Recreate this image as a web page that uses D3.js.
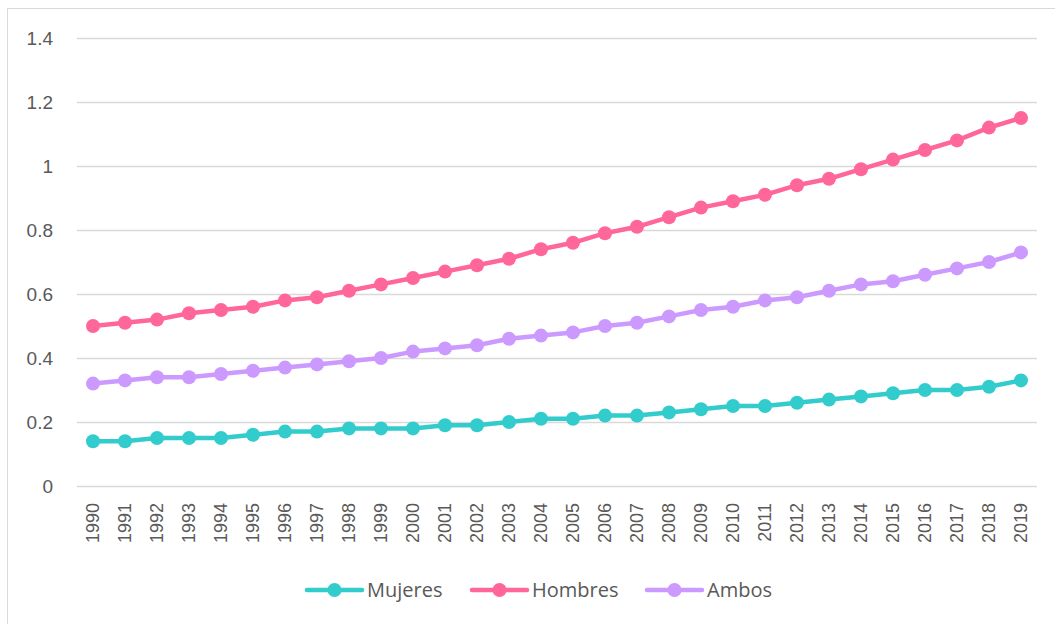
<!DOCTYPE html>
<html>
<head>
<meta charset="utf-8">
<script src="https://cdn.jsdelivr.net/npm/d3@7"></script>
<style>
  html, body { margin: 0; padding: 0; background: #fff; }
  svg { display: block; font-family: "Open Sans", Lato, sans-serif; }
</style>
</head>
<body>
<svg id="chart" width="1055" height="624"></svg>
<script>
// Years on the category axis
const years = d3.range(1990, 2020).map(String);

// Series values
const mujeres = [0.14, 0.14, 0.15, 0.15, 0.15, 0.16, 0.17, 0.17, 0.18, 0.18,
                 0.18, 0.19, 0.19, 0.20, 0.21, 0.21, 0.22, 0.22, 0.23, 0.24,
                 0.25, 0.25, 0.26, 0.27, 0.28, 0.29, 0.30, 0.30, 0.31, 0.33];
const hombres = [0.50, 0.51, 0.52, 0.54, 0.55, 0.56, 0.58, 0.59, 0.61, 0.63,
                 0.65, 0.67, 0.69, 0.71, 0.74, 0.76, 0.79, 0.81, 0.84, 0.87,
                 0.89, 0.91, 0.94, 0.96, 0.99, 1.02, 1.05, 1.08, 1.12, 1.15];
const ambos   = [0.32, 0.33, 0.34, 0.34, 0.35, 0.36, 0.37, 0.38, 0.39, 0.40,
                 0.42, 0.43, 0.44, 0.46, 0.47, 0.48, 0.50, 0.51, 0.53, 0.55,
                 0.56, 0.58, 0.59, 0.61, 0.63, 0.64, 0.66, 0.68, 0.70, 0.73];

const seriesNames = ["Mujeres", "Hombres", "Ambos"];
const seriesColors = ["#33CCCC", "#FF6699", "#CC99FF"];
const yTicks = [0, 0.2, 0.4, 0.6, 0.8, 1, 1.2, 1.4];

const series = [mujeres, hombres, ambos].map((values, i) => ({
  name: seriesNames[i], color: seriesColors[i], values
}));

const svg = d3.select("#chart");
const textColor = "#595959";
const gridColor = "#d9d9d9";

// Outer chart frame
svg.append("rect")
  .attr("x", 7.5).attr("y", 8.5)
  .attr("width", 1100).attr("height", 700)
  .attr("fill", "#fff")
  .attr("stroke", gridColor).attr("stroke-width", 1);

const plot = { left: 77, right: 1037, top: 38, bottom: 486 };

const x = d3.scaleBand().domain(years).range([plot.left, plot.right]);
const y = d3.scaleLinear().domain([0, 1.4]).range([plot.bottom, plot.top]);

// Horizontal gridlines and value labels
const yAxis = d3.axisLeft(y).tickValues(yTicks).tickSize(-(plot.right - plot.left))
  .tickPadding(24).tickFormat(d => d3.format("")(+d.toFixed(1)));
const gy = svg.append("g").attr("transform", `translate(${plot.left},0)`).call(yAxis);
gy.select(".domain").remove();
gy.selectAll(".tick line").attr("stroke", gridColor).attr("stroke-width", 1.5);
gy.selectAll(".tick text").attr("fill", textColor).attr("font-size", 19);

// Category axis with rotated year labels
const xAxis = d3.axisBottom(x).tickSize(0).tickPadding(0);
const gx = svg.append("g").attr("transform", `translate(0,${plot.bottom})`).call(xAxis);
gx.select(".domain").remove();
gx.selectAll(".tick text")
  .attr("fill", textColor).attr("font-size", 18)
  .attr("transform", "rotate(-90)")
  .attr("x", -17).attr("y", 0).attr("dy", "0.35em")
  .attr("text-anchor", "end");

const cx = (d, i) => x(years[i]) + x.bandwidth() / 2;
const line = d3.line().x(cx).y(d => y(d));

// Series lines and markers
series.forEach(s => {
  const g = svg.append("g");
  g.append("path").datum(s.values)
    .attr("d", line).attr("fill", "none")
    .attr("stroke", s.color).attr("stroke-width", 4.5)
    .attr("stroke-linejoin", "round").attr("stroke-linecap", "round");
  g.selectAll("circle").data(s.values).join("circle")
    .attr("cx", cx).attr("cy", d => y(d)).attr("r", 7)
    .attr("fill", s.color);
});

// Legend
const legendX = [307, 472, 647];
const legendY = 590;
series.forEach((s, i) => {
  const g = svg.append("g").attr("transform", `translate(${legendX[i]},${legendY})`);
  g.append("line").attr("x1", 0).attr("x2", 55).attr("y1", 0).attr("y2", 0)
    .attr("stroke", s.color).attr("stroke-width", 4.5).attr("stroke-linecap", "round");
  g.append("circle").attr("cx", 27.5).attr("cy", 0).attr("r", 7).attr("fill", s.color);
  g.append("text").attr("x", 60).attr("y", 0).attr("dy", "0.35em")
    .attr("fill", textColor).attr("font-size", 20).text(s.name);
});
</script>
</body>
</html>
